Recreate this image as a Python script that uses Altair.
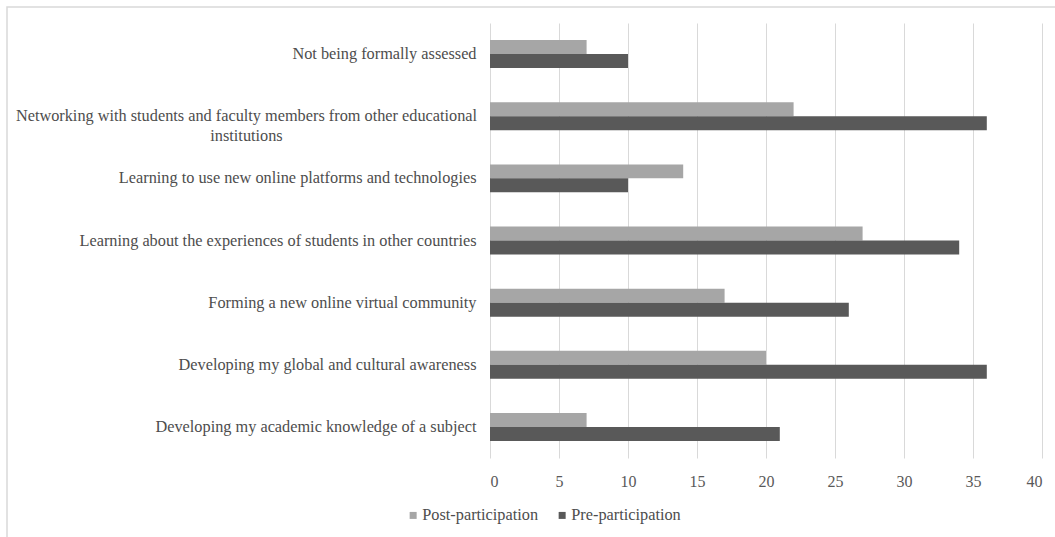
import altair as alt
import pandas as pd

categories = [
    "Not being formally assessed",
    "Networking with students and faculty members from other educational institutions",
    "Learning to use new online platforms and technologies",
    "Learning about the experiences of students in other countries",
    "Forming a new online virtual community",
    "Developing my global and cultural awareness",
    "Developing my academic knowledge of a subject",
]
post_values = [7, 22, 14, 27, 17, 20, 7]
pre_values = [10, 36, 10, 34, 26, 36, 21]
series = ["Post-participation", "Pre-participation"]
colors = ["#a6a6a6", "#595959"]
x_ticks = [0, 5, 10, 15, 20, 25, 30, 35, 40]

rows = []
for c, a, b in zip(categories, post_values, pre_values):
    rows.append({"category": c, "series": series[0], "value": a})
    rows.append({"category": c, "series": series[1], "value": b})
df = pd.DataFrame(rows)

FONT = "Liberation Serif, Times New Roman, DejaVu Serif, serif"
long_label = categories[1]
line1 = "Networking with students and faculty members from other educational"
line2 = "institutions"
label_expr = f"datum.value == '{long_label}' ? ['{line1}', '{line2}'] : datum.value"
is_long = f"datum.value == '{long_label}'"

bars = alt.Chart(df).mark_bar().encode(
    x=alt.X(
        "value:Q",
        scale=alt.Scale(domain=[0, 40], nice=False),
        axis=alt.Axis(
            values=x_ticks, grid=True, gridColor="#d9d9d9", domain=False, ticks=False,
            labelFont=FONT, labelFontSize=16, labelColor="#595959", labelPadding=15, title=None,
        ),
    ),
    y=alt.Y(
        "category:N", sort=categories,
        scale=alt.Scale(paddingInner=0.55, paddingOuter=0.275),
        axis=alt.Axis(
            title=None, domain=False, ticks=False, labelExpr=label_expr,
            labelAlign=alt.condition(is_long, alt.value("center"), alt.value("right")),
            labelPadding=alt.condition(is_long, alt.value(244), alt.value(14)),
            labelFont=FONT, labelFontSize=16.3, labelColor="#4d4d4d", labelLimit=700, labelLineHeight=20,
        ),
    ),
    yOffset=alt.YOffset("series:N", sort=series),
    color=alt.Color(
        "series:N", sort=series,
        scale=alt.Scale(domain=series, range=colors),
        legend=alt.Legend(
            title=None, orient="none", legendX=-85, legendY=484, direction="horizontal",
            symbolType="square", symbolSize=49, symbolStrokeWidth=0,
            labelFont=FONT, labelFontSize=16.3, labelColor="#4d4d4d", labelOffset=1, columnPadding=15,
        ),
    ),
)

frame = alt.Chart(pd.DataFrame({"a": [0]})).mark_rect(
    fill=None, stroke="#d9d9d9", strokeWidth=1.5
).encode(
    x=alt.value(-483), x2=alt.value(700), y=alt.value(-16), y2=alt.value(600)
)

chart = alt.layer(frame, bars).properties(
    width=552, height=435,
    autosize=alt.AutoSizeParams(type="none"),
    padding={"left": 490, "top": 23, "right": 13, "bottom": 79},
    background="white",
).configure_view(stroke=None)

chart.save("out.html", embed_options={"renderer": "svg", "actions": False})
